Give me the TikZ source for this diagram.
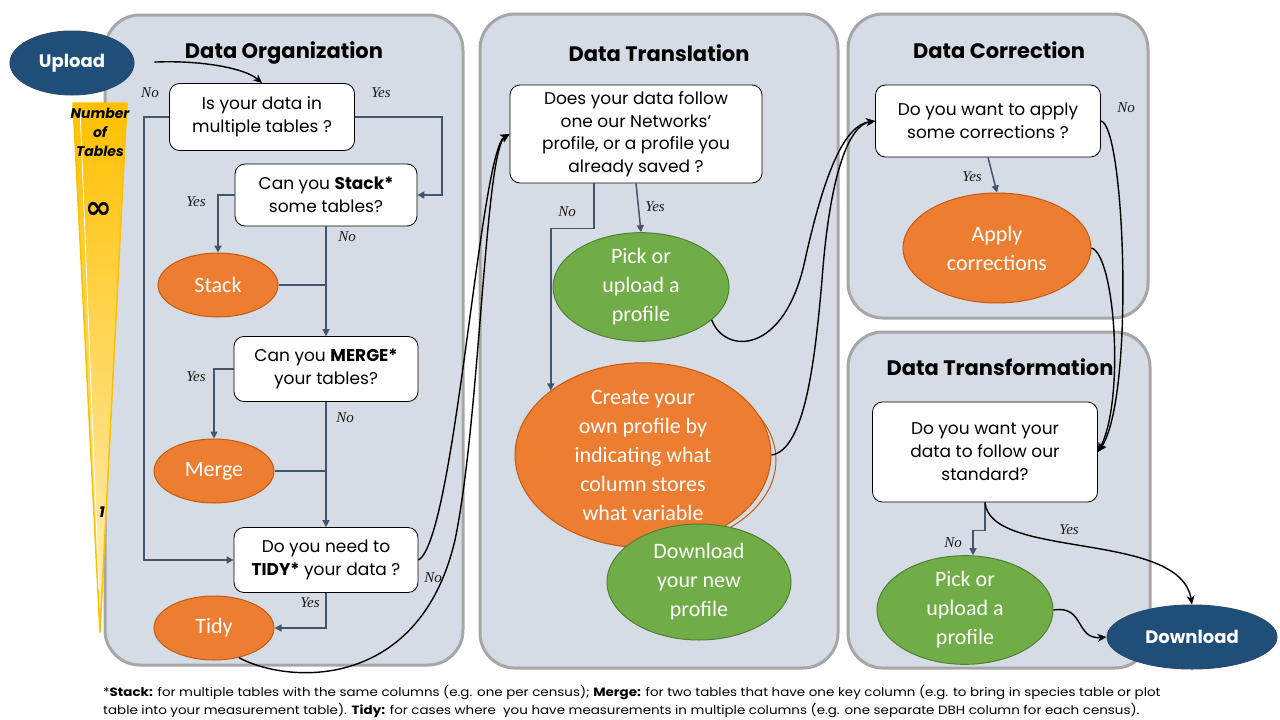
\documentclass[tikz,border=0pt]{standalone}
\usepackage{fontspec}
\setmainfont{Poppins}
\newfontfamily\calfont{Carlito}
\newfontfamily\symfont{DejaVu Sans}
\newfontfamily\handfont{Liberation Serif}
\newfontfamily\footfont[FakeStretch=1.12]{Poppins}
\usetikzlibrary{arrows.meta,shapes.geometric,calc}
\definecolor{panelfill}{HTML}{D6DCE5}
\definecolor{panelline}{HTML}{A6A6A6}
\definecolor{orng}{HTML}{ED7D31}
\definecolor{orngd}{HTML}{C55A11}
\definecolor{grn}{HTML}{70AD47}
\definecolor{grnd}{HTML}{507E32}
\definecolor{navy}{HTML}{1F4E79}
\definecolor{navyd}{HTML}{2E4A6B}
\definecolor{slate}{HTML}{44546A}
\definecolor{goldA}{HTML}{FFC000}
\definecolor{goldM}{HTML}{FFD54F}
\definecolor{goldB}{HTML}{FFF0C0}
\begin{document}
\begin{tikzpicture}[x=1pt,y=-1pt,
 panel/.style={fill=panelfill,draw=panelline,line width=3pt,rounded corners=35pt},
 title/.style={font=\fontsize{21}{24}\selectfont\bfseries},
 qbox/.style={draw=black,fill=white,line width=0.8pt,rounded corners=10pt,align=center,inner sep=2pt,font=\fontsize{17}{23}\selectfont},
 blob/.style={ellipse,inner sep=0pt,align=center,text=white,line width=1pt,font=\calfont\fontsize{22}{29}\selectfont},
 orangeblob/.style={blob,fill=orng,draw=orngd},
 greenblob/.style={blob,fill=grn,draw=grnd},
 navyblob/.style={ellipse,inner sep=0pt,fill=navy,draw=navyd,line width=1pt,text=white,font=\fontsize{18}{22}\selectfont\bfseries},
 flow/.style={draw=slate,line width=1.5pt,-{Triangle[length=7pt,width=7pt]}},
 flowline/.style={draw=slate,line width=1.5pt},
 curvy/.style={draw=black,line width=1.4pt,-{Stealth[length=9pt,width=8pt]}},
 lbl/.style={font=\handfont\fontsize{15}{16}\selectfont\itshape,text=black!90}
]
\useasboundingbox (0,0) rectangle (1280,720);
\fill[white] (0,0) rectangle (1280,720);

% panels
\draw[panel] (105,15) rectangle (463,665);
\draw[panel] (480,14) rectangle (838,668);
\draw[panel] (848,14) rectangle (1148,318);
\draw[panel] (848,332) rectangle (1150,668);

% number of tables wedge
\shade[top color=goldA, middle color=goldM, bottom color=goldB] (73,103) -- (127,103) -- (100,632) -- cycle;
\draw[goldA,line width=1.5pt,line join=round] (73,103) -- (127,103) -- (100,632) -- cycle;
\draw[white,line width=0.8pt] (80,108) -- (99,590);
\node[font=\fontsize{14}{19}\selectfont\bfseries\itshape,align=center] (nt) at (100,132) {Number\\of\\Tables};
\node[font=\symfont\bfseries\fontsize{32}{32}\selectfont] (inf) at (99,210) {∞};
\node[font=\fontsize{15}{18}\selectfont\bfseries\itshape] (one) at (102,512) {1};

% titles
\node[title] (t1) at (284,53) {Data Organization};
\node[title] (t2) at (659,53) {Data Translation};
\node[title] (t3) at (999,50) {Data Correction};
\node[title] (t4) at (1000,367) {Data Transformation};

% nodes
\node[navyblob,minimum width=124pt,minimum height=64pt] (upload) at (72,63) {Upload};
\node[qbox,minimum width=185pt,minimum height=67pt] (q1) at (262,117) {Is your data in\\multiple tables ?};
\node[qbox,minimum width=182pt,minimum height=62pt] (q2) at (326,195) {Can you \textbf{Stack*}\\some tables?};
\node[orangeblob,minimum width=120pt,minimum height=64pt] (stack) at (218,285) {Stack};
\node[qbox,minimum width=184pt,minimum height=65pt] (q3) at (326,369) {Can you \textbf{MERGE*}\\your tables?};
\node[orangeblob,minimum width=120pt,minimum height=64pt] (merge) at (214,471) {Merge};
\node[qbox,minimum width=184pt,minimum height=65pt] (q4) at (326,560) {Do you need to\\\textbf{TIDY*} your data ?};
\node[orangeblob,minimum width=120pt,minimum height=64pt] (tidy) at (214,628) {Tidy};

\node[qbox,minimum width=252pt,minimum height=98pt,font=\fontsize{17}{22.5}\selectfont] (tq) at (636,134) {Does your data follow\\one our Networks'\\profile, or a profile you\\already saved ?};
\node[greenblob,minimum width=176pt,minimum height=100pt] (pick) at (641,287) {Pick or\\upload a\\profile};
\draw[orngd,line width=1pt] (648,460) ellipse [x radius=128pt, y radius=88pt];
\node[orangeblob,minimum width=256pt,minimum height=180pt] (create) at (643,455) {Create your\\own profile by\\indicating what\\column stores\\what variable};
\node[greenblob,minimum width=184pt,minimum height=116pt] (dlprof) at (699,582) {Download\\your new\\profile};

\node[qbox,minimum width=225pt,minimum height=72pt] (cq) at (988,121) {Do you want to apply\\some corrections ?};
\node[orangeblob,minimum width=188pt,minimum height=110pt] (apply) at (997,248) {Apply\\corrections};

\node[qbox,minimum width=225pt,minimum height=100pt] (dq) at (985,452) {Do you want your\\data to follow our\\standard?};
\node[greenblob,minimum width=176pt,minimum height=94pt] (pick2) at (965,610) {Pick or\\upload a\\profile};
\node[navyblob,minimum width=170pt,minimum height=64pt] (download) at (1192,637) {Download};

% orthogonal flows
\draw[flow] (q1.west) -- ++(-25,0) |- (q4.west);
\draw[flow] (q1.east) -- ++(87,0) |- (q2.east);
\draw[flow] (q2.west) -| (stack.north);
\draw[flow] (q2.south) -- (q3.north);
\draw[flowline] (stack.east) -- (stack.east -| q2.south);
\draw[flow] (q3.west) -| (merge.north);
\draw[flow] (q3.south) -- (q4.north);
\draw[flowline] (merge.east) -- (merge.east -| q3.south);
\draw[flow] (q4.south) |- (tidy.east);
\draw[flow] ([xshift=-42pt]tq.south) -- ++(0,45) -| (create.145);
\draw[flow] (tq.south) -- (pick.north);
\draw[flow] (cq.south) -- (apply.north);
\draw[flow] (dq.south) -- ++(0,28) -| ([xshift=8pt]pick2.north);

% curved flows
\draw[curvy,shorten <=20pt] (upload.east) .. controls (200,60) and (245,68) .. (q1.north);
\draw[curvy] (q4.east) .. controls (455,540) and (480,150) .. (tq.west);
\draw[curvy] (tidy.-50) .. controls (290,685) and (420,690) .. (455,540) .. controls (480,420) and (485,150) .. (tq.west);
\draw[curvy] (pick.-25) .. controls (725,355) and (785,355) .. (805,260) .. controls (825,170) and (845,125) .. (cq.west);
\draw[curvy] (create.east) .. controls (805,450) and (815,360) .. (822,280) .. controls (830,170) and (850,125) .. (cq.west);
\draw[curvy] (cq.east) .. controls (1125,125) and (1135,400) .. (dq.east);
\draw[curvy] (apply.east) .. controls (1115,255) and (1125,400) .. (dq.east);
\draw[curvy] (dq.south) .. controls (990,560) and (1180,530) .. (download.north);
\draw[curvy] (pick2.east) .. controls (1085,605) and (1075,640) .. (download.west);

% labels
\node[lbl] (l1) at (150,93) {No};
\node[lbl] (l2) at (381,93) {Yes};
\node[lbl] (l3) at (196,202) {Yes};
\node[lbl] (l4) at (347,237) {No};
\node[lbl] (l5) at (196,377) {Yes};
\node[lbl] (l6) at (345,418) {No};
\node[lbl] (l7) at (310,603) {Yes};
\node[lbl] (l8) at (433,578) {No};
\node[lbl] (l9) at (567,212) {No};
\node[lbl] (l10) at (655,207) {Yes};
\node[lbl] (l11) at (972,177) {Yes};
\node[lbl] (l12) at (1126,108) {No};
\node[lbl] (l13) at (953,543) {No};
\node[lbl] (l14) at (1069,530) {Yes};

% footnote
\node[anchor=north west,align=left,font=\footfont\fontsize{12}{18}\selectfont,inner sep=0pt] (foot) at (103,685) {*\textbf{Stack:} for multiple tables with the same columns (e.g. one per census); \textbf{Merge:} for two tables that have one key column (e.g. to bring in species table or plot\\table into your measurement table). \textbf{Tidy:} for cases where\ \ you have measurements in multiple columns (e.g. one separate DBH column for each census).};
\end{tikzpicture}
\end{document}
